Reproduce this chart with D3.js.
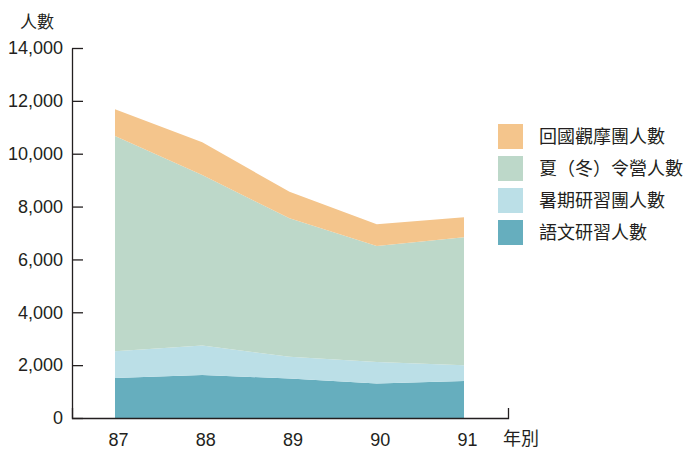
<!DOCTYPE html>
<html>
<head>
<meta charset="utf-8">
<script src="https://cdn.jsdelivr.net/npm/d3@7"></script>
<style>
  body { margin: 0; background: #fff; }
  svg text { font-family: "Liberation Sans", Arial, "Noto Sans CJK TC", sans-serif; fill: #231f20; }
</style>
</head>
<body>
<svg id="chart"></svg>
<script>
// data
const years = ['87', '88', '89', '90', '91'];
const seriesNames = ['語文研習人數', '暑期研習團人數', '夏（冬）令營人數', '回國觀摩團人數'];
const language = [1510, 1630, 1490, 1310, 1400];
const summerStudy = [1020, 1110, 830, 810, 600];
const camp = [8140, 6450, 5240, 4390, 4840];
const visit = [1010, 1240, 1000, 820, 760];
const yTicks = [0, 2000, 4000, 6000, 8000, 10000, 12000, 14000];
const colors = ['#66aebe', '#bbdfe7', '#bdd8c9', '#f4c58c'];

const w = 689, h = 449;
const svg = d3.select('#chart').attr('width', w).attr('height', h);

// table for the stack
const table = years.map((y, i) => ({
  year: y,
  [seriesNames[0]]: language[i],
  [seriesNames[1]]: summerStudy[i],
  [seriesNames[2]]: camp[i],
  [seriesNames[3]]: visit[i]
}));
const stacked = d3.stack().keys(seriesNames)(table);

const x = d3.scalePoint().domain(years).range([115, 464]);
const y = d3.scaleLinear().domain([0, 14000]).range([418, 48]);

const area = d3.area()
  .x(d => x(d.data.year))
  .y0(d => y(d[0]))
  .y1(d => y(d[1]));

svg.selectAll('.layer')
  .data(stacked)
  .join('path')
    .attr('class', 'layer')
    .attr('d', area)
    .attr('fill', (d, i) => colors[i]);

// y axis, ticks pointing right
const yAxis = d3.axisLeft(y)
  .tickValues(yTicks)
  .tickSizeInner(-11)
  .tickSizeOuter(0)
  .tickPadding(9)
  .tickFormat(d3.format(','));
const gy = svg.append('g')
  .attr('transform', 'translate(72,0)')
  .call(yAxis);
gy.selectAll('text').style('font-size', '18px');
gy.selectAll('line, path').attr('stroke', '#231f20').attr('stroke-width', 1.3);

// x axis: baseline runs a bit beyond the data, small upward tick at the end
const xBase = d3.scaleLinear().domain([0, 1]).range([72, 508]);
const xAxis = d3.axisBottom(xBase)
  .tickValues([])
  .tickSizeOuter(-10);
const gx = svg.append('g')
  .attr('transform', 'translate(0,418)')
  .call(xAxis);
gx.selectAll('path').attr('stroke', '#231f20').attr('stroke-width', 1.3);

const xLabels = d3.axisBottom(x).tickSize(0).tickPadding(15);
const gxl = svg.append('g')
  .attr('transform', 'translate(3,418)')
  .call(xLabels);
gxl.select('.domain').remove();
gxl.selectAll('text').style('font-size', '18px');

// axis titles
svg.append('text').attr('x', 20).attr('y', 28).style('font-size', '17px').text('人數');
svg.append('text').attr('x', 503).attr('y', 445).style('font-size', '18px').text('年別');

// legend, top entry first
const legend = svg.append('g').attr('transform', 'translate(498,124)');
const legendItems = seriesNames.map((n, i) => ({ name: n, color: colors[i] })).reverse();
const row = legend.selectAll('g')
  .data(legendItems)
  .join('g')
    .attr('transform', (d, i) => `translate(0,${i * 32})`);
row.append('rect')
  .attr('width', 25).attr('height', 25)
  .attr('fill', d => d.color);
row.append('text')
  .attr('x', 41).attr('y', 13)
  .attr('dominant-baseline', 'central')
  .style('font-size', '18px')
  .text(d => d.name);
</script>
</body>
</html>
